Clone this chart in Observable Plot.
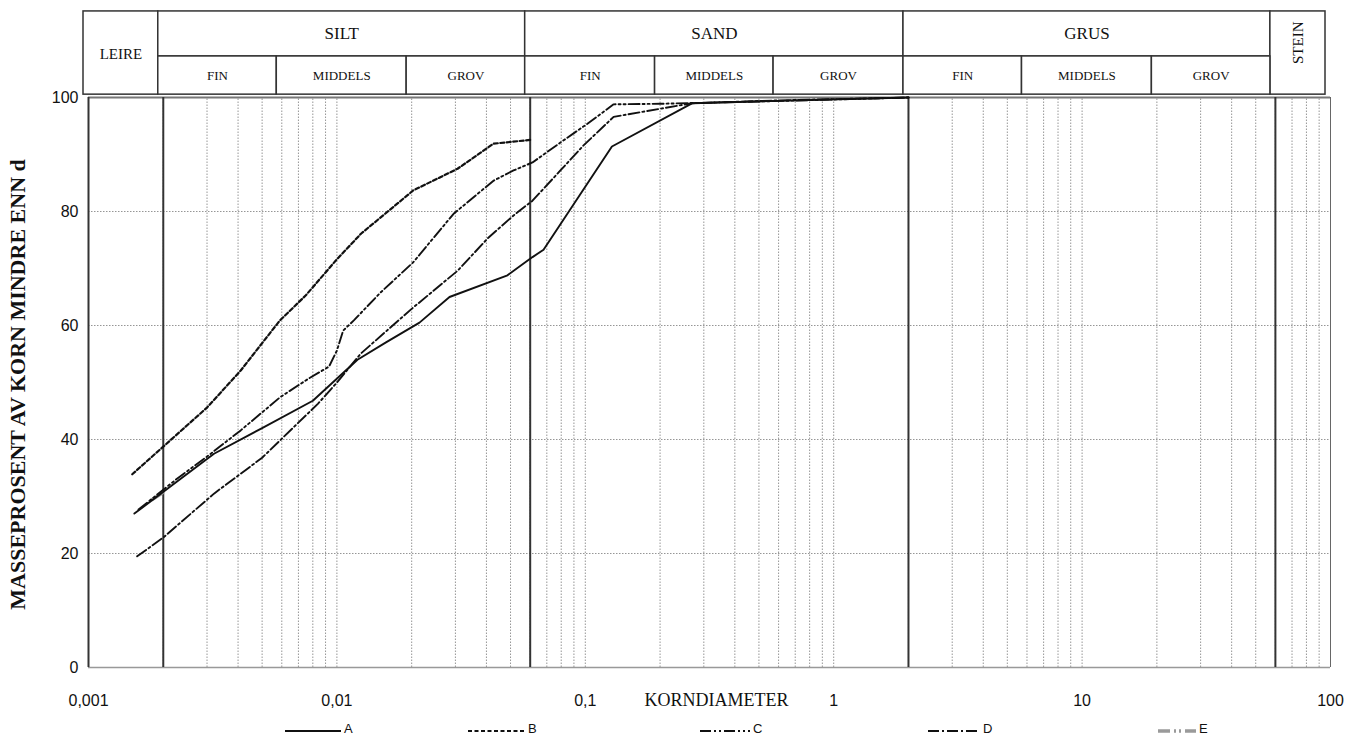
<!DOCTYPE html>
<html>
<head>
<meta charset="utf-8">
<script src="https://cdn.jsdelivr.net/npm/d3@7"></script>
<script src="https://cdn.jsdelivr.net/npm/@observablehq/plot@0.6"></script>
<style>
  html, body { margin: 0; padding: 0; background: #fff; }
  #wrap { position: relative; width: 1348px; height: 742px; overflow: hidden; }
  #legend { position: absolute; left: 0; top: 721px; width: 1348px; height: 20px; font-family: "Liberation Sans", Arial, sans-serif; font-size: 13px; color: #111; }
  .item { position: absolute; top: 0; display: flex; align-items: center; }
  .item svg { margin-right: 3px; }
</style>
</head>
<body>
<div id="wrap">
  <div id="chart"></div>
  <div id="legend"></div>
</div>
<script>
// ---------------- data ----------------
const seriesNames = ["A", "B", "C", "D", "E"];

const diamA = [0.00153, 0.0032, 0.005, 0.008, 0.0121, 0.0157, 0.0215, 0.0284, 0.0486, 0.0613, 0.0679, 0.128, 0.27, 0.6, 2];
const passA = [27, 37.5, 42, 46.8, 54, 57, 60.5, 65, 68.8, 72, 73.3, 91.4, 99, 99.4, 100];

const diamB = [0.0015, 0.003, 0.0041, 0.0059, 0.0075, 0.0099, 0.0125, 0.0203, 0.0306, 0.0427, 0.0613];
const passB = [33.9, 45.6, 52.1, 60.9, 65.3, 71.4, 76.1, 83.7, 87.5, 91.9, 92.6];

const diamC = [0.00159, 0.0023, 0.003, 0.0041, 0.0059, 0.0077, 0.0093, 0.0100, 0.0106, 0.0117, 0.015, 0.0203, 0.0295, 0.0427, 0.0514, 0.0613, 0.0794, 0.102, 0.13, 0.2, 0.5, 2];
const passC = [27.7, 33.3, 37, 41.6, 47.4, 50.7, 52.8, 55.6, 59.1, 60.9, 65.8, 71.1, 79.6, 85.4, 87.2, 88.6, 92.1, 95.4, 98.8, 98.9, 99.3, 100];

const diamD = [0.00157, 0.002, 0.0032, 0.005, 0.0084, 0.01, 0.0125, 0.0201, 0.0306, 0.0407, 0.0514, 0.0613, 0.0794, 0.0984, 0.13, 0.27, 0.6, 2];
const passD = [19.5, 22.8, 30.5, 36.8, 46.3, 50, 55.1, 63, 69.6, 75.4, 79.3, 81.9, 87.2, 91.6, 96.6, 99, 99.5, 100];

const diamE = [0.00181, 0.00203];
const passE = [29.5, 30.9];

const xTicks = [0.001, 0.01, 0.1, 1, 10, 100];
const xTickLabels = ["0,001", "0,01", "0,1", "1", "10", "100"];
const yTicks = [0, 20, 40, 60, 80, 100];

// grain-size classes (header)
const mainClasses = ["LEIRE", "SILT", "SAND", "GRUS", "STEIN"];
const mainLimits = [0.001, 0.002, 0.06, 2, 60, 100];
const subClasses = ["FIN", "MIDDELS", "GROV"];
const subLimits = [0.002, 0.006, 0.02, 0.06, 0.2, 0.6, 2, 6, 20, 60];

// vertical grid lines of the log paper
const decades = [0.001, 0.01, 0.1, 1, 10];
const mantissas = [1, 2, 3, 4, 5, 6, 7, 8, 9];

// ---------------- build ----------------
const diams = {A: diamA, B: diamB, C: diamC, D: diamD, E: diamE};
const passes = {A: passA, B: passB, C: passC, D: passD, E: passE};
const rows = seriesNames.flatMap(s => diams[s].map((d, i) => ({s, d, p: passes[s][i]})));

const styles = {
  A: {stroke: "#111", strokeWidth: 1.9, dash: null},
  B: {stroke: "#111", strokeWidth: 2.2, dash: "4,2.5"},
  C: {stroke: "#111", strokeWidth: 1.9, dash: "11,3,2,3,2,3"},
  D: {stroke: "#111", strokeWidth: 1.9, dash: "11,3,2,3"},
  E: {stroke: "#9a9a9a", strokeWidth: 3.5, dash: "12,4,2,3,2,4"}
};
// legend layout (left edge of each sample line, sample length)
const legendLayout = {A: [285, 56], B: [468, 57], C: [700, 50], D: [928, 52], E: [1158, 38]};

const gridX = decades.flatMap(d => mantissas.map(m => m * d)).concat([100]);
const tickLabel = new Map(xTicks.map((t, i) => [t, xTickLabels[i]]));

// header rows (in y units above 100)
const ROW_TOP = 115.1, ROW_MID = 107.2, ROW_BOT = 100.5;
const mainCells = mainClasses.map((name, i) => {
  const full = name === "LEIRE" || name === "STEIN";
  return {name, x1: mainLimits[i], x2: mainLimits[i + 1], y1: full ? ROW_BOT : ROW_MID, y2: ROW_TOP, full};
});
const subCells = subLimits.slice(0, -1).map((x1, i) => ({name: subClasses[i % 3], x1, x2: subLimits[i + 1]}));
const HDX = -5;
const serif = "Liberation Serif, Times New Roman, serif";

const lineMarks = ["E", "A", "B", "C", "D"].map(s => Plot.line(rows.filter(r => r.s === s), {
  x: "d", y: "p", stroke: styles[s].stroke, strokeWidth: styles[s].strokeWidth,
  strokeDasharray: styles[s].dash, strokeLinejoin: "round"
}));

const chart = Plot.plot({
  width: 1348,
  height: 716,
  marginLeft: 88,
  marginRight: 18,
  marginTop: 97,
  marginBottom: 49,
  style: {fontFamily: "Liberation Sans, Arial, sans-serif", fontSize: "16px", background: "#fff", overflow: "visible", color: "#111"},
  x: {type: "log", domain: [0.001, 100], ticks: xTicks, tickFormat: d => tickLabel.get(d), tickSize: 0, tickPadding: 27, label: null},
  y: {domain: [0, 100], ticks: yTicks, tickSize: 0, tickPadding: 10, label: null},
  marks: [
    // grid
    Plot.ruleX(gridX, {y1: 0, y2: 100, stroke: "#8a8a8a", strokeWidth: 0.9, strokeDasharray: "1.5,1.5"}),
    Plot.ruleY([20, 40, 60, 80], {stroke: "#8a8a8a", strokeWidth: 0.9, strokeDasharray: "1.5,1.5"}),
    Plot.ruleY([0], {stroke: "#999", strokeWidth: 1.5}),
    Plot.ruleY([100], {stroke: "#777", strokeWidth: 2.2}),
    Plot.ruleX([100], {y1: 0, y2: 100, stroke: "#666", strokeWidth: 1}),
    Plot.ruleX(mainLimits.slice(0, -1), {y1: 0, y2: 100, stroke: "#333", strokeWidth: 2}),
    // header table
    Plot.rect(mainCells, {x1: "x1", x2: "x2", y1: "y1", y2: "y2", fill: "#fff", stroke: "#333", strokeWidth: 1.5, dx: HDX}),
    Plot.rect(subCells, {x1: "x1", x2: "x2", y1: ROW_BOT, y2: ROW_MID, fill: "#fff", stroke: "#333", strokeWidth: 1.5, dx: HDX}),
    Plot.text(mainCells.filter(c => c.name !== "STEIN"), {
      x: c => Math.sqrt(c.x1 * c.x2), y: c => c.full ? 107.6 : 111.15, text: "name",
      fontFamily: serif, fontSize: c => c.full ? 15 : 17, dx: HDX
    }),
    Plot.text(mainCells.filter(c => c.name === "STEIN"), {
      x: c => Math.sqrt(c.x1 * c.x2), y: 109.6, text: "name", rotate: -90,
      fontFamily: serif, fontSize: 15, dx: HDX
    }),
    Plot.text(subCells, {x: c => Math.sqrt(c.x1 * c.x2), y: 103.8, text: "name", fontFamily: serif, fontSize: 13, dx: HDX}),
    // curves
    ...lineMarks,
    // axis titles
    Plot.text(["KORNDIAMETER"], {frameAnchor: "bottom", dy: 38, dx: 7, fontFamily: serif, fontSize: 18}),
    Plot.text(["MASSEPROSENT AV KORN MINDRE ENN d"], {frameAnchor: "left", textAnchor: "middle", rotate: -90, dx: -71, dy: 2, fontFamily: serif, fontWeight: "bold", fontSize: 22})
  ]
});
document.getElementById("chart").appendChild(chart);

// legend
const legend = document.getElementById("legend");
for (const s of seriesNames) {
  const st = styles[s];
  const [left, w] = legendLayout[s];
  const item = document.createElement("div");
  item.className = "item";
  item.style.left = left + "px";
  item.innerHTML = `<svg width="${w}" height="14"><line x1="0" x2="${w}" y1="9" y2="9" stroke="${st.stroke}" stroke-width="${st.strokeWidth}" ${st.dash ? `stroke-dasharray="${st.dash}"` : ""}/></svg><span>${s}</span>`;
  legend.appendChild(item);
}
</script>
</body>
</html>
